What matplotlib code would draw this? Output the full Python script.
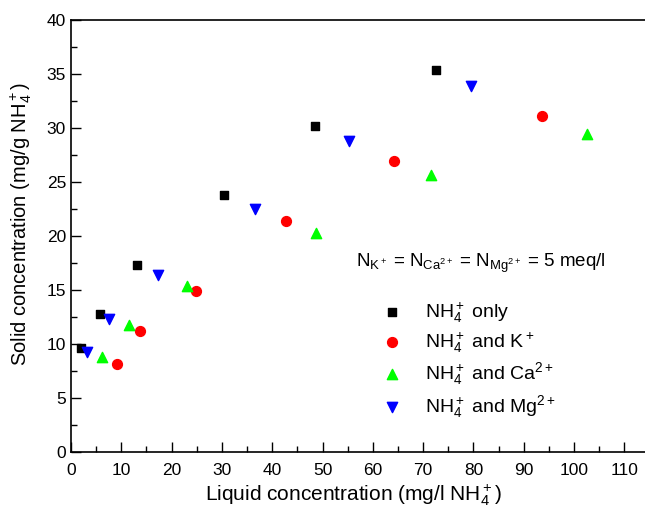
import matplotlib
matplotlib.use('Agg')
import matplotlib.pyplot as plt
from matplotlib.ticker import MultipleLocator

plt.rcParams['font.family'] = ['Liberation Sans', 'DejaVu Sans']
plt.rcParams['mathtext.fontset'] = 'custom'
plt.rcParams['mathtext.rm'] = 'Liberation Sans'
plt.rcParams['mathtext.it'] = 'Liberation Sans'

# 数据
x_nh4 = [1.9, 5.7, 13.1, 30.4, 48.6, 72.5]
y_nh4 = [9.6, 12.8, 17.3, 23.8, 30.2, 35.4]
x_k = [9.2, 13.7, 24.8, 42.7, 64.2, 93.7]
y_k = [8.1, 11.2, 14.9, 21.4, 27.0, 31.1]
x_ca = [6.1, 11.5, 23.0, 48.7, 71.6, 102.5]
y_ca = [8.8, 11.7, 15.4, 20.3, 25.7, 29.5]
x_mg = [3.2, 7.6, 17.4, 36.5, 55.2, 79.6]
y_mg = [9.2, 12.3, 16.4, 22.5, 28.8, 33.9]

fig = plt.figure(figsize=(6.45, 5.12), dpi=100)
ax = fig.add_axes([0.110, 0.118, 0.897, 0.842])  # 右边框在图外

ax.scatter(x_nh4, y_nh4, marker='s', s=40, color='black', label=r'NH$_4^+$ only')
ax.scatter(x_k, y_k, marker='o', s=50, color='#ff0000', label=r'NH$_4^+$ and K$^+$')
ax.scatter(x_ca, y_ca, marker='^', s=55, color='#00ff00', label=r'NH$_4^+$ and Ca$^{2+}$')
ax.scatter(x_mg, y_mg, marker='v', s=55, color='#0000ff', label=r'NH$_4^+$ and Mg$^{2+}$')

ax.set_xlim(0, 115)
ax.set_ylim(0, 40)
ax.xaxis.set_major_locator(MultipleLocator(10))
ax.xaxis.set_minor_locator(MultipleLocator(5))
ax.yaxis.set_major_locator(MultipleLocator(5))
ax.yaxis.set_minor_locator(MultipleLocator(2.5))
ax.tick_params(which='both', direction='in', labelsize=12.5, width=1)
ax.tick_params(axis='x', pad=8)
ax.tick_params(which='major', length=7)
ax.tick_params(which='minor', length=4)
for sp in ax.spines.values():
    sp.set_linewidth(1.2)

ax.set_xlabel(r'Liquid concentration (mg/l NH$_4^+$)', fontsize=15)
ax.set_ylabel(r'Solid concentration (mg/g NH$_4^+$)', fontsize=14.5)
ax.xaxis.set_label_coords(0.489, -0.072)
ax.yaxis.set_label_coords(-0.064, 0.528)

ax.text(81.5, 17.5, r'N$_{\mathregular{K}^+}$ = N$_{\mathregular{Ca}^{2+}}$ = N$_{\mathregular{Mg}^{2+}}$ = 5 meq/l',
        fontsize=13.5, ha='center', va='center')

ax.legend(loc='upper left', bbox_to_anchor=(0.525, 0.369), frameon=False, fontsize=14,
          handlelength=1, handletextpad=1.2, labelspacing=0.3, borderaxespad=0)

fig.savefig('out.png', dpi=100)
